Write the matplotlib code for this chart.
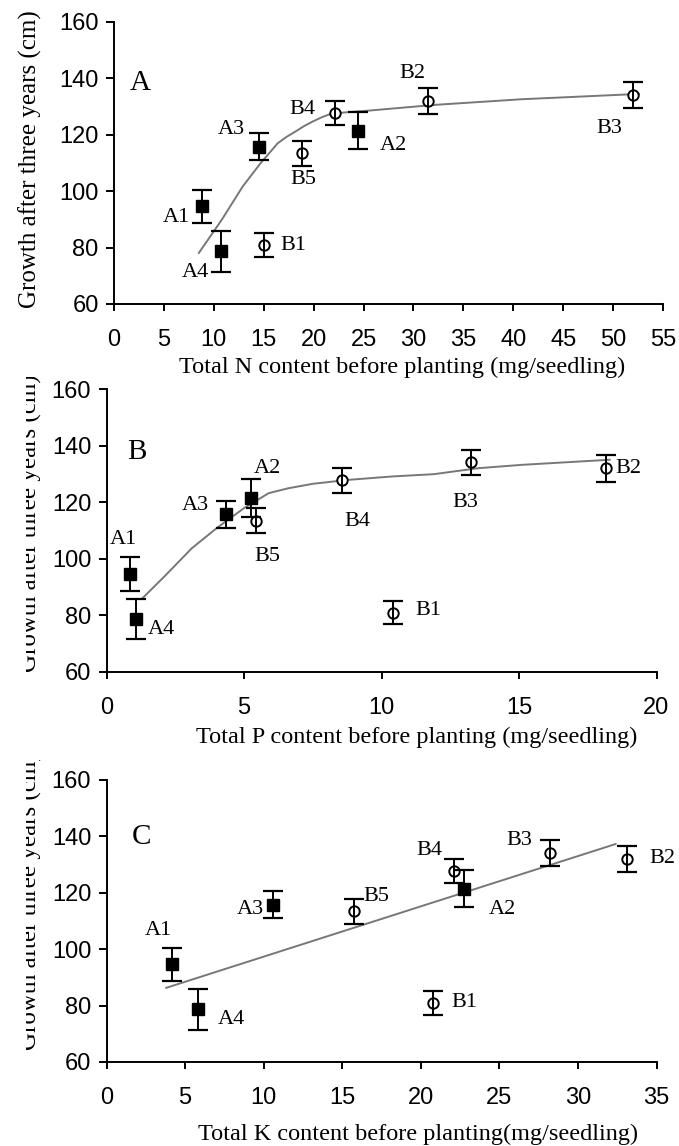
import matplotlib
matplotlib.use("Agg")
import matplotlib.pyplot as plt
from matplotlib.transforms import Bbox

# seedling groups, shared growth values
names = ['A1', 'A2', 'A3', 'A4', 'B1', 'B2', 'B3', 'B4', 'B5']
growth = [94.6, 121.5, 115.8, 78.7, 81.0, 132.0, 134.1, 127.7, 113.4]
growth_err = [6.0, 6.6, 4.8, 7.2, 4.2, 4.7, 4.5, 4.4, 4.4]
filled = [True, True, True, True, False, False, False, False, False]

# nutrient content before planting (mg/seedling)
n_content = [8.8, 24.4, 14.5, 10.7, 15.0, 31.5, 51.95, 22.1, 18.8]
p_content = [0.84, 5.26, 4.35, 1.06, 10.43, 18.15, 13.25, 8.58, 5.42]
k_content = [4.15, 22.77, 10.6, 5.81, 20.75, 33.15, 28.22, 22.14, 15.77]

# fitted curves
n_fit_x = [8.5, 10.8, 12.9, 14.7, 15.6, 16.4, 17.3, 18.2, 19.0, 19.9, 20.8, 21.7, 23.0, 25.6, 32.1, 40.8, 52.6]
n_fit_y = [78.1, 89.9, 101.7, 110.0, 113.7, 117.0, 119.3, 121.2, 123.0, 124.7, 126.2, 127.4, 127.9, 128.6, 130.6, 132.6, 134.5]
p_fit_x = [1.3, 2.1, 3.1, 4.0, 5.0, 5.9, 6.6, 7.5, 8.8, 10.4, 11.9, 13.5, 15.1, 18.3]
p_fit_y = [86.0, 93.7, 103.7, 110.8, 117.9, 123.2, 124.9, 126.5, 127.9, 129.1, 129.9, 132.0, 133.2, 135.0]
k_fit_x = [3.8, 32.4]
k_fit_y = [86.3, 137.3]

W, H = 679, 1146
fig = plt.figure(figsize=(W / 100, H / 100), dpi=100)

serif = ['Liberation Serif', 'DejaVu Serif']
sans = ['Liberation Sans', 'DejaVu Sans']


def px_axes(left, top, right, bottom):
    return fig.add_axes([left / W, 1 - bottom / H, (right - left) / W, (bottom - top) / H])


def draw_panel(ax, xs, fit_x, fit_y, xmax, letter, letter_pos, label_pos):
    ax.plot(fit_x, fit_y, color='#777777', lw=1.4, zorder=1)
    for i in range(len(names)):
        if filled[i]:
            ax.plot(xs[i], growth[i], marker='s', ms=8.5, color='black', zorder=2)
        else:
            ax.plot(xs[i], growth[i], marker='o', ms=7.5, mfc='white', mec='black', mew=1.4, zorder=2)
        ax.errorbar(xs[i], growth[i], yerr=growth_err[i], fmt='none', ecolor='black',
                    elinewidth=1.4, capsize=7, capthick=1.6, zorder=3)
        lx, ly = label_pos[names[i]]
        ax.text(lx, ly, names[i], family=serif, fontsize=16, ha='center', va='center')
    ax.text(letter_pos[0], letter_pos[1], letter, family=serif, fontsize=21, ha='center', va='center')
    ax.set_xlim(0, xmax)
    ax.set_ylim(60, 160)
    ax.set_xticks(range(0, xmax + 1, 5))
    ax.set_yticks(range(60, 161, 20))
    for s in ['top', 'right']:
        ax.spines[s].set_visible(False)
    for s in ['left', 'bottom']:
        ax.spines[s].set_linewidth(1.4)
    ax.tick_params(axis='x', length=5, width=1.4, pad=13, labelsize=17)
    ax.tick_params(axis='y', length=6, width=1.4, pad=5, labelsize=17)
    for t in ax.get_xticklabels() + ax.get_yticklabels():
        t.set_family(sans)


def rot_text(s, cx, cy, clip=None):
    t = fig.text(cx / W, 1 - cy / H, s, family=serif, fontsize=18,
                 rotation=90, ha='center', va='center')
    if clip is not None:
        # the lower panels show the label cut at the top and left
        x0, y0, x1, y1 = clip
        t.set_clip_box(Bbox([[x0, H - y1], [x1, H - y0]]))
        t.set_clip_on(True)


axA = px_axes(114, 22, 663, 304)
draw_panel(axA, n_content, n_fit_x, n_fit_y, 55, 'A', (2.6, 138.3), {
    'A1': (6.3, 90.8), 'A4': (8.15, 71.2), 'A3': (11.8, 122.0), 'B1': (18.0, 80.8),
    'B5': (19.0, 104.0), 'B4': (18.9, 128.8), 'A2': (28.0, 116.2), 'B2': (29.85, 141.6),
    'B3': (49.6, 122.3)})

axB = px_axes(106.5, 389, 656.5, 672)
draw_panel(axB, p_content, p_fit_x, p_fit_y, 20, 'B', (1.1, 137.8), {
    'A1': (0.63, 106.9), 'A4': (1.98, 75.0), 'A3': (3.24, 119.0), 'A2': (5.85, 132.0),
    'B5': (5.85, 100.7), 'B4': (9.12, 113.1), 'B3': (13.04, 119.8), 'B2': (18.97, 132.0),
    'B1': (11.7, 81.6)})

axC = px_axes(106.5, 780, 656.5, 1062)
draw_panel(axC, k_content, k_fit_x, k_fit_y, 35, 'C', (2.2, 139.8), {
    'A1': (3.32, 106.7), 'A4': (7.97, 75.0), 'A3': (9.13, 114.0), 'B5': (17.15, 118.6),
    'B4': (20.56, 135.1), 'A2': (25.2, 114.0), 'B3': (26.3, 138.6), 'B2': (35.4, 132.0),
    'B1': (22.8, 81.0)})

fig.text(402 / W, 1 - 367 / H, 'Total N content before planting (mg/seedling)', family=serif,
         fontsize=17.5, ha='center', va='center')
fig.text(417 / W, 1 - 737 / H, 'Total P content before planting (mg/seedling)', family=serif,
         fontsize=17.5, ha='center', va='center')
fig.text(418 / W, 1 - 1134 / H, 'Total K content before planting(mg/seedling)', family=serif,
         fontsize=17.5, ha='center', va='center')

ylab = 'Growth after three years (cm)'
rot_text(ylab, 30, 159)
rot_text(ylab, 30, 523, clip=(26, 377, W, H))
rot_text(ylab, 30, 901, clip=(26, 760, W, H))

fig.savefig('out.png', dpi=100)
